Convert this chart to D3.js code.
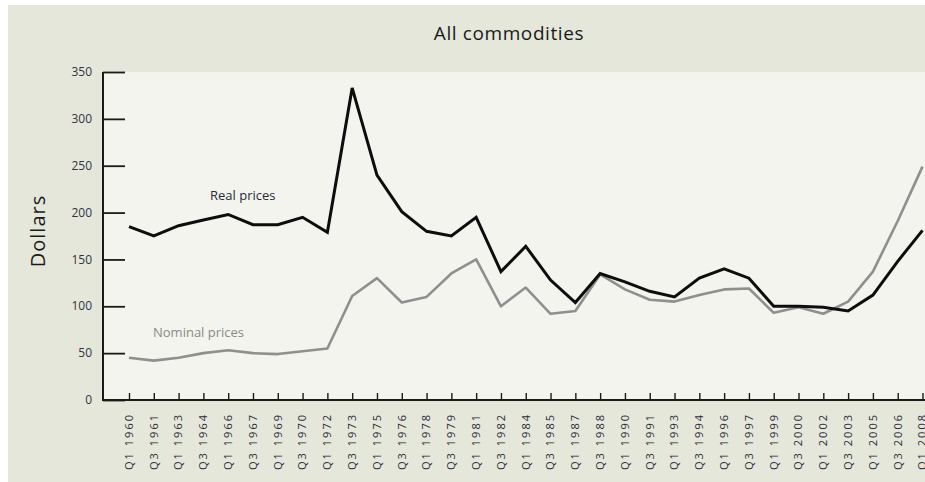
<!DOCTYPE html>
<html>
<head>
<meta charset="utf-8">
<script src="https://cdn.jsdelivr.net/npm/d3@7"></script>
<style>
  html, body { margin: 0; padding: 0; background: #ffffff; }
  svg { display: block; }
  text { font-family: "Open Sans", "Noto Sans", sans-serif; }
</style>
</head>
<body>
<svg id="chart" width="925" height="482"></svg>
<script>
// Quarter labels along the x axis
const quarters = [
  "Q1 1960", "Q3 1961", "Q1 1963", "Q3 1964", "Q1 1966", "Q3 1967", "Q1 1969",
  "Q3 1970", "Q1 1972", "Q3 1973", "Q1 1975", "Q3 1976", "Q1 1978", "Q3 1979",
  "Q1 1981", "Q3 1982", "Q1 1984", "Q3 1985", "Q1 1987", "Q3 1988", "Q1 1990",
  "Q3 1991", "Q1 1993", "Q3 1994", "Q1 1996", "Q3 1997", "Q1 1999", "Q3 2000",
  "Q1 2002", "Q3 2003", "Q1 2005", "Q3 2006", "Q1 2008"
];

// Commodity price index, real terms
const realPrices = [
  185, 175, 186, 192, 198, 187, 187, 195, 179, 333,
  240, 201, 180, 175, 195, 137, 164, 128, 104, 135,
  126, 116, 110, 130, 140, 130, 100, 100, 99, 95,
  112, 148, 181
];

// Commodity price index, nominal terms
const nominalPrices = [
  45, 42, 45, 50, 53, 50, 49, 52, 55, 111,
  130, 104, 110, 135, 150, 100, 120, 92, 95, 134,
  118, 107, 105, 112, 118, 119, 93, 99, 92, 105,
  137, 191, 249
];

const yTicks = [0, 50, 100, 150, 200, 250, 300, 350];

const svg = d3.select("#chart");
const W = 925, H = 482;
const plot = { left: 103, right: 925, top: 72, bottom: 400 };

// Backgrounds: beige frame with a lighter plotting panel
svg.append("rect").attr("x", 8).attr("y", 5).attr("width", W - 8).attr("height", H - 5)
  .attr("fill", "#e4e7da");
svg.append("rect").attr("x", plot.left).attr("y", plot.top)
  .attr("width", plot.right - plot.left).attr("height", plot.bottom - plot.top)
  .attr("fill", "#f3f4ee");

const x = d3.scalePoint().domain(quarters).range([129, 922.5]);
const y = d3.scaleLinear().domain([0, 350]).range([plot.bottom, plot.top]);

// Title
svg.append("text")
  .attr("x", 509).attr("y", 40)
  .attr("text-anchor", "middle")
  .attr("font-size", 19)
  .attr("letter-spacing", 0.6)
  .attr("fill", "#1a1a1a")
  .text("All commodities");

// Y axis title
svg.append("text")
  .attr("transform", "translate(45,231) rotate(-90)")
  .attr("text-anchor", "middle")
  .attr("font-size", 20)
  .attr("letter-spacing", 1)
  .attr("fill", "#1a1a1a")
  .text("Dollars");

// Y axis: ticks point into the panel
const yAxis = d3.axisRight(y).tickValues(yTicks).tickSize(22).tickFormat("");
const gy = svg.append("g").attr("transform", `translate(${plot.left},0)`).call(yAxis);
gy.select(".domain").remove();
gy.selectAll(".tick line").attr("stroke", "#1a1a1a").attr("stroke-width", 1.8);

svg.append("g").selectAll("text").data(yTicks).join("text")
  .attr("x", 92).attr("y", d => y(d)).attr("dy", "0.35em")
  .attr("text-anchor", "end")
  .attr("font-size", 12)
  .attr("fill", "#333344")
  .text(d => d);

// X axis: short ticks pointing up
const xAxis = d3.axisTop(x).tickSize(7).tickFormat("");
const gx = svg.append("g").attr("transform", `translate(0,${plot.bottom})`).call(xAxis);
gx.select(".domain").remove();
gx.selectAll(".tick line").attr("stroke", "#1a1a1a").attr("stroke-width", 1.4);

// Axis lines
svg.append("path")
  .attr("d", `M${plot.left},${plot.top}V${plot.bottom}H${plot.right}`)
  .attr("fill", "none").attr("stroke", "#1a1a1a").attr("stroke-width", 2);

// Rotated quarter labels
svg.append("g").selectAll("text").data(quarters).join("text")
  .attr("transform", d => `translate(${x(d)},415) rotate(-90)`)
  .attr("text-anchor", "end")
  .attr("dy", "0.35em")
  .attr("font-size", 11)
  .attr("textLength", 55)
  .attr("lengthAdjust", "spacing")
  .attr("fill", "#2a2a3a")
  .text(d => d);

// Series lines
const line = d3.line().x((d, i) => x(quarters[i])).y(d => y(d));

svg.append("path").datum(nominalPrices)
  .attr("d", line)
  .attr("fill", "none").attr("stroke", "#8f8f8f").attr("stroke-width", 2.6)
  .attr("stroke-linejoin", "round");

svg.append("path").datum(realPrices)
  .attr("d", line)
  .attr("fill", "none").attr("stroke", "#0d0d0d").attr("stroke-width", 3)
  .attr("stroke-linejoin", "miter");

// Series labels
svg.append("text")
  .attr("x", 210).attr("y", 200)
  .attr("font-size", 13)
  .attr("fill", "#2a2a3a")
  .text("Real prices");

svg.append("text")
  .attr("x", 153).attr("y", 337)
  .attr("font-size", 13)
  .attr("fill", "#8a8a8a")
  .text("Nominal prices");
</script>
</body>
</html>
